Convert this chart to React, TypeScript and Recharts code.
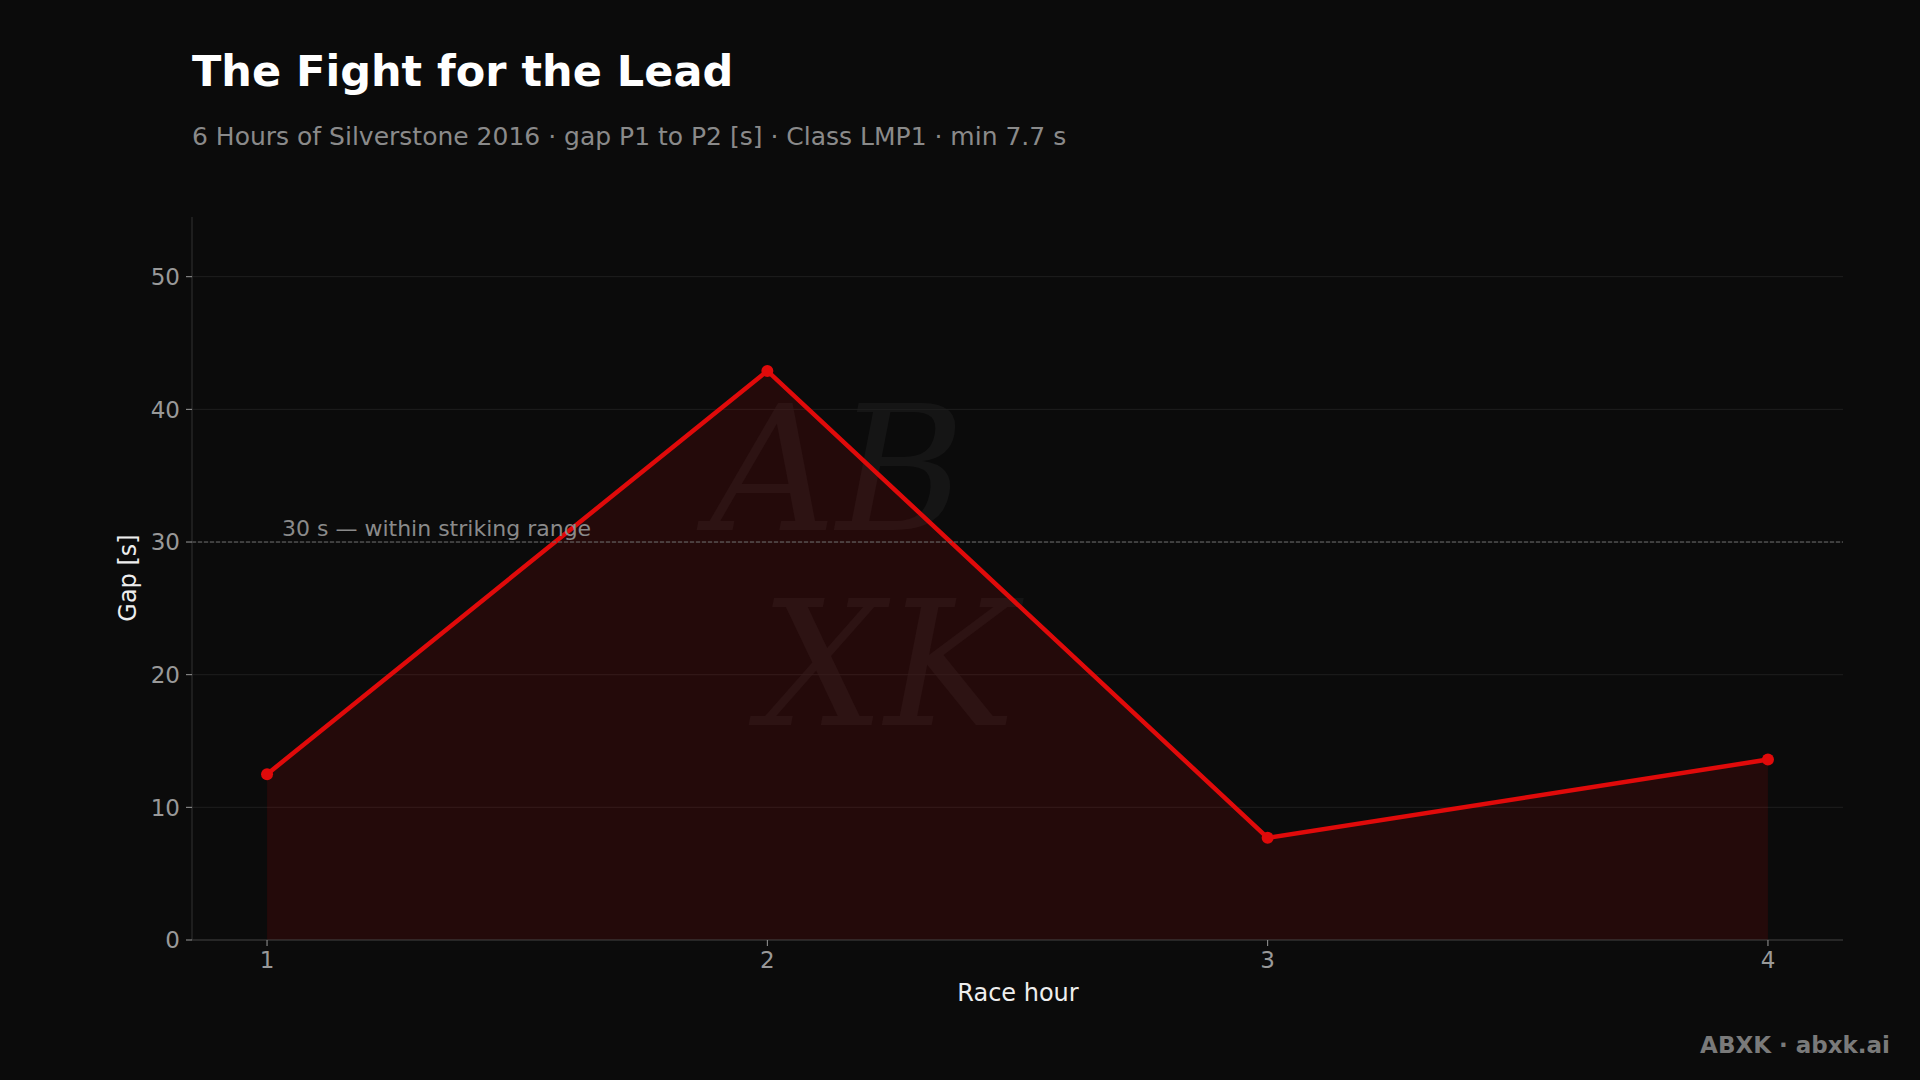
import React from "react";
import { AreaChart, Area, XAxis, YAxis, CartesianGrid, ReferenceLine } from "recharts";

const raceHours = [1, 2, 3, 4];
const gapSeconds = [12.5, 42.9, 7.7, 13.6];
const yTicks = [0, 10, 20, 30, 40, 50];
const gridValues = [10, 20, 30, 40, 50];
const xTicks = [1, 2, 3, 4];
const strikingRange = 30;

const data = raceHours.map((h, i) => ({ hour: h, gap: gapSeconds[i] }));

const FONT = "'DejaVu Sans', sans-serif";
const BG = "#0b0b0b";
const RED = "#e00a0a";

export default function App() {
  return (
    <div style={{ position: "absolute", left: 0, top: 0, width: 1920, height: 1080, background: BG, fontFamily: FONT, overflow: "hidden" }}>
      <svg width={1920} height={1080} style={{ position: "absolute", left: 0, top: 0 }}>
        <g fill="#ffffff" fillOpacity={0.045} fontFamily="'DejaVu Serif', serif" fontStyle="italic">
          <text x={710} y={530} fontSize={175}>AB</text>
          <text x={760} y={725} fontSize={175}>XK</text>
        </g>
      </svg>
      <div style={{ position: "absolute", left: 0, top: 0 }}>
        <AreaChart width={1920} height={1080} data={data} margin={{ top: 217, left: 132, right: 77, bottom: 100 }}>
          <CartesianGrid vertical={false} horizontalValues={gridValues} stroke="#1f1f1f" strokeWidth={1} />
          <XAxis
            dataKey="hour"
            type="number"
            domain={[0.85, 4.15]}
            ticks={xTicks}
            height={40}
            stroke="#444"
            tick={{ fill: "#999", fontSize: 23, fontFamily: FONT }}
            tickLine={{ stroke: "#999" }}
            tickSize={6}
            tickMargin={6}
          />
          <YAxis
            type="number"
            domain={[0, 54.5]}
            ticks={yTicks}
            width={60}
            stroke="#333"
            tick={{ fill: "#999", fontSize: 23, fontFamily: FONT }}
            tickLine={{ stroke: "#999" }}
            tickSize={6}
            tickMargin={6}
          />
          <ReferenceLine y={strikingRange} stroke="#6a6a6a" strokeDasharray="4 2" strokeWidth={1} />
          <Area
            type="linear"
            dataKey="gap"
            stroke={RED}
            strokeWidth={4.5}
            fill={RED}
            fillOpacity={0.12}
            dot={{ r: 6, fill: RED, stroke: RED, strokeWidth: 0, fillOpacity: 1 }}
            activeDot={false}
            isAnimationActive={false}
          />
        </AreaChart>
      </div>
      <svg width={1920} height={1080} style={{ position: "absolute", left: 0, top: 0, pointerEvents: "none" }}>
        <text x={192} y={86} fill="#ffffff" fontSize={43} fontWeight="bold" fontFamily={FONT}>The Fight for the Lead</text>
        <text x={192} y={145} fill="#8a8a8a" fontSize={25} fontFamily={FONT}>6 Hours of Silverstone 2016 · gap P1 to P2 [s] · Class LMP1 · min 7.7 s</text>
        <text x={282} y={536} fill="#8a8a8a" fontSize={22} fontFamily={FONT}>30 s — within striking range</text>
        <text x={1018} y={1001} fill="#eeeeee" fontSize={24} textAnchor="middle" fontFamily={FONT}>Race hour</text>
        <text x={0} y={0} fill="#eeeeee" fontSize={24} textAnchor="middle" fontFamily={FONT} transform="translate(136,578) rotate(-90)">Gap [s]</text>
        <text x={1890} y={1053} fill="#7a7a7a" fontSize={23} fontWeight="bold" textAnchor="end" fontFamily={FONT}>ABXK · abxk.ai</text>
      </svg>
    </div>
  );
}
